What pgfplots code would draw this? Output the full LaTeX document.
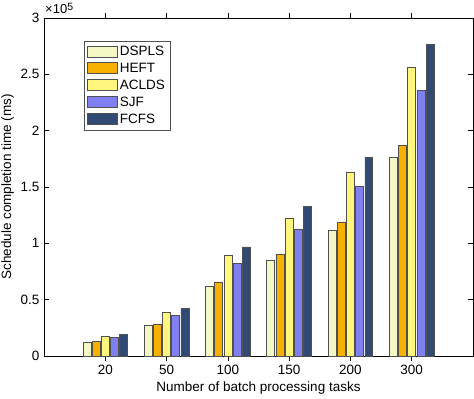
\documentclass[border=0pt]{standalone}
\usepackage{pgfplots}
\pgfplotsset{compat=1.18}
\usepackage{fontspec}
\setmainfont{Liberation Sans}
\definecolor{cDSPLS}{HTML}{F4F8C4}
\definecolor{cHEFT}{HTML}{F5B000}
\definecolor{cACLDS}{HTML}{FFF67E}
\definecolor{cSJF}{HTML}{8080F0}
\definecolor{cFCFS}{HTML}{304A74}
\definecolor{edge}{HTML}{505050}
\begin{document}
\fontsize{13}{15}\selectfont
\begin{tikzpicture}
\begin{axis}[
  name=ax,
  scale only axis,
  width=429pt, height=338pt,
  xmin=0, xmax=7, ymin=0, ymax=300000,
  xtick={1,2,3,4,5,6},
  xticklabels={20,50,100,150,200,300},
  ytick={0,50000,100000,150000,200000,250000,300000},
  yticklabels={0,0.5,1,1.5,2,2.5,3},
  scaled y ticks=false, scaled x ticks=false,
  tick align=inside, tick pos=both,
  major tick length=5pt,
  tick style={black, line width=0.5pt},
  axis line style={black, line width=0.6pt},
  ticklabel style={font=\fontsize{13.5}{15}\selectfont},
  label style={font=\fontsize{13.5}{15}\selectfont},
  xlabel={Number of batch processing tasks},
  ylabel={Schedule completion time (ms)},
  xlabel style={yshift=2pt},
  ylabel style={yshift=-2pt},
  ybar, bar width=0.13,
  every axis plot/.append style={draw=edge, line width=0.6pt},
  legend style={at={(0.093,0.932)}, anchor=north west, draw=edge, line width=0.6pt,
    font=\fontsize{13.5}{15}\selectfont, inner sep=3pt, row sep=1.5pt},
  legend cell align=left,
  legend image code/.code={\draw[#1] (0pt,-5pt) rectangle (30pt,6pt);},
  extra description/.code={\node[anchor=base west, inner sep=0pt, font=\fontsize{13}{15}\selectfont] at ([xshift=1pt,yshift=4pt]rel axis cs:0,1) {×10\raisebox{0.55ex}{\fontsize{10.5}{11}\selectfont 5}};},
]
\addplot[fill=cDSPLS, bar shift=-0.3] coordinates {(1,11800) (2,26900) (3,61900) (4,85000) (5,112000) (6,176500)};
\addplot[fill=cHEFT, bar shift=-0.15] coordinates {(1,12700) (2,28400) (3,65700) (4,90300) (5,119000) (6,187000)};
\addplot[fill=cACLDS, bar shift=0] coordinates {(1,17500) (2,39000) (3,89700) (4,122600) (5,163000) (6,255800)};
\addplot[fill=cSJF, bar shift=0.15] coordinates {(1,16300) (2,35800) (3,82300) (4,112800) (5,150500) (6,235600)};
\addplot[fill=cFCFS, bar shift=0.3] coordinates {(1,19200) (2,42000) (3,96800) (4,133000) (5,176500) (6,276800)};
\legend{DSPLS,HEFT,ACLDS,SJF,FCFS}
\end{axis}
\pgfresetboundingbox
\useasboundingbox ([xshift=-44pt,yshift=-43pt]ax.south west) rectangle ([xshift=1pt,yshift=18pt]ax.north east);
\end{tikzpicture}
\end{document}
